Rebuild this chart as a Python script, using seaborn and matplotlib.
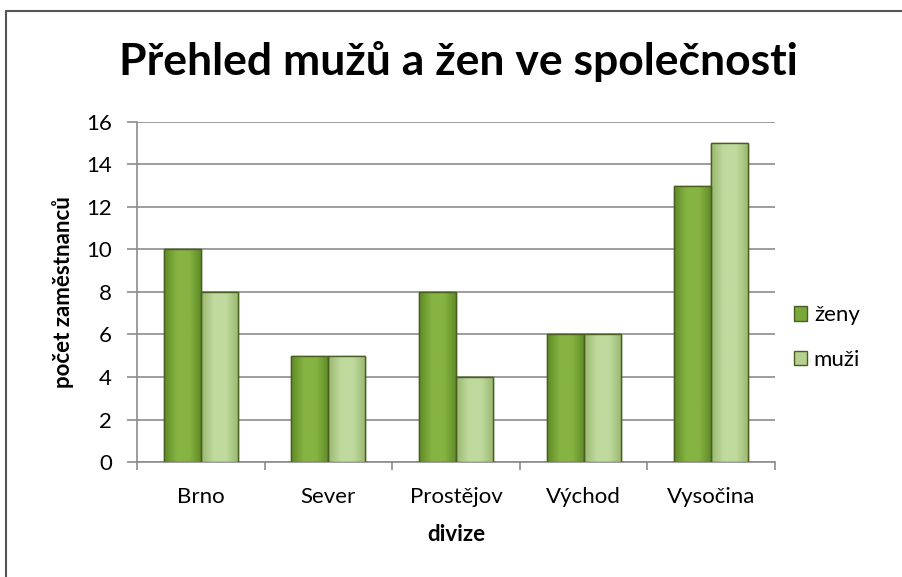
import matplotlib
matplotlib.use("Agg")
import matplotlib.pyplot as plt
from matplotlib.lines import Line2D
from matplotlib.colors import LinearSegmentedColormap
import numpy as np
import seaborn as sns
import pandas as pd

divize = ["Brno", "Sever", "Prostějov", "Východ", "Vysočina"]
zeny = [10, 5, 8, 6, 13]
muzi = [8, 5, 4, 6, 15]

barvy = {"ženy": "#7aa838", "muži": "#b6d18f"}

df = pd.DataFrame({
    "divize": divize * 2,
    "pocet": zeny + muzi,
    "pohlavi": ["ženy"] * len(divize) + ["muži"] * len(divize),
})

sns.set_theme(style="white")
plt.rcParams["font.family"] = ["Lato", "DejaVu Sans"]
plt.rcParams["text.color"] = "black"
plt.rcParams["axes.labelcolor"] = "black"

fig = plt.figure(figsize=(9.03, 5.77), dpi=100)
ax = fig.add_axes([0.1517, 0.1993, 0.7065, 0.5893])

sns.barplot(data=df, x="divize", y="pocet", hue="pohlavi",
            palette=barvy, width=0.58, edgecolor="#4a5e22", linewidth=1.0,
            saturation=1, ax=ax, zorder=3)

# soft bevel shading on each bar (horizontal gradient clipped to the bar)
shade = {
    "ženy": LinearSegmentedColormap.from_list("z", ["#5f8a26", "#86b442", "#86b442", "#5f8a26"]),
    "muži": LinearSegmentedColormap.from_list("m", ["#98b86e", "#c0da9e", "#c0da9e", "#98b86e"]),
}
grad = np.linspace(0, 1, 64).reshape(1, -1)
for cont, key in zip(ax.containers, ["ženy", "muži"]):
    for p in cont.patches:
        x0, y0 = p.get_x(), p.get_y()
        w, h = p.get_width(), p.get_height()
        im = ax.imshow(grad, cmap=shade[key], aspect="auto", extent=[x0, x0 + w, y0, y0 + h],
                       zorder=3.5, interpolation="bicubic")
        im.set_clip_path(p)
        ax.add_patch(plt.Rectangle((x0, y0), w, h, fill=False, edgecolor="#4a5e22", lw=1.0, zorder=4))
ax.set_xlim(-0.5, len(divize) - 0.5)
ax.set_ylim(0, 16)
ax.set_aspect("auto")

ax.set_yticks(range(0, 17, 2))
ax.yaxis.grid(True, color="#8c8c8c", linewidth=1.2, zorder=0)
ax.set_axisbelow(True)
for s in ["top", "right"]:
    ax.spines[s].set_visible(False)
for s in ["left", "bottom"]:
    ax.spines[s].set_color("#8c8c8c")
    ax.spines[s].set_linewidth(1.2)

ax.set_xticks([i - 0.5 for i in range(len(divize) + 1)], minor=False)
ax.set_xticklabels([])
ax.set_xticks(range(len(divize)), minor=True)
ax.set_xticklabels(divize, minor=True)
ax.tick_params(axis="x", which="major", length=6, color="#8c8c8c", width=1.2, bottom=True)
ax.tick_params(axis="x", which="minor", length=0, labelsize=16, pad=18, colors="black")
ax.tick_params(axis="y", length=7, color="#8c8c8c", width=1.2, left=True, labelsize=16,
               pad=11, colors="black")

ax.set_xlabel("divize", fontsize=16, fontweight="bold", labelpad=12)
ax.set_ylabel("počet zaměstnanců", fontsize=16, fontweight="bold", labelpad=9)

fig.text(0.508, 0.893, "Přehled mužů a žen ve společnosti", ha="center", va="center",
         fontsize=32, fontweight="bold", color="black")

handles, labels = ax.get_legend_handles_labels()
fig.legend(handles, labels, loc="center left", bbox_to_anchor=(0.857, 0.415),
           frameon=False, fontsize=16, handlelength=0.6, handleheight=0.6,
           labelspacing=1.1, handletextpad=0.3)
if ax.get_legend() is not None:
    ax.get_legend().remove()

fig.add_artist(Line2D([5.5 / 903, 5.5 / 903], [0, 1 - 11 / 577], color="#555555", lw=1.5))
fig.add_artist(Line2D([5.5 / 903, 1], [1 - 11 / 577, 1 - 11 / 577], color="#555555", lw=1.5))

fig.savefig("out.png", dpi=100)
